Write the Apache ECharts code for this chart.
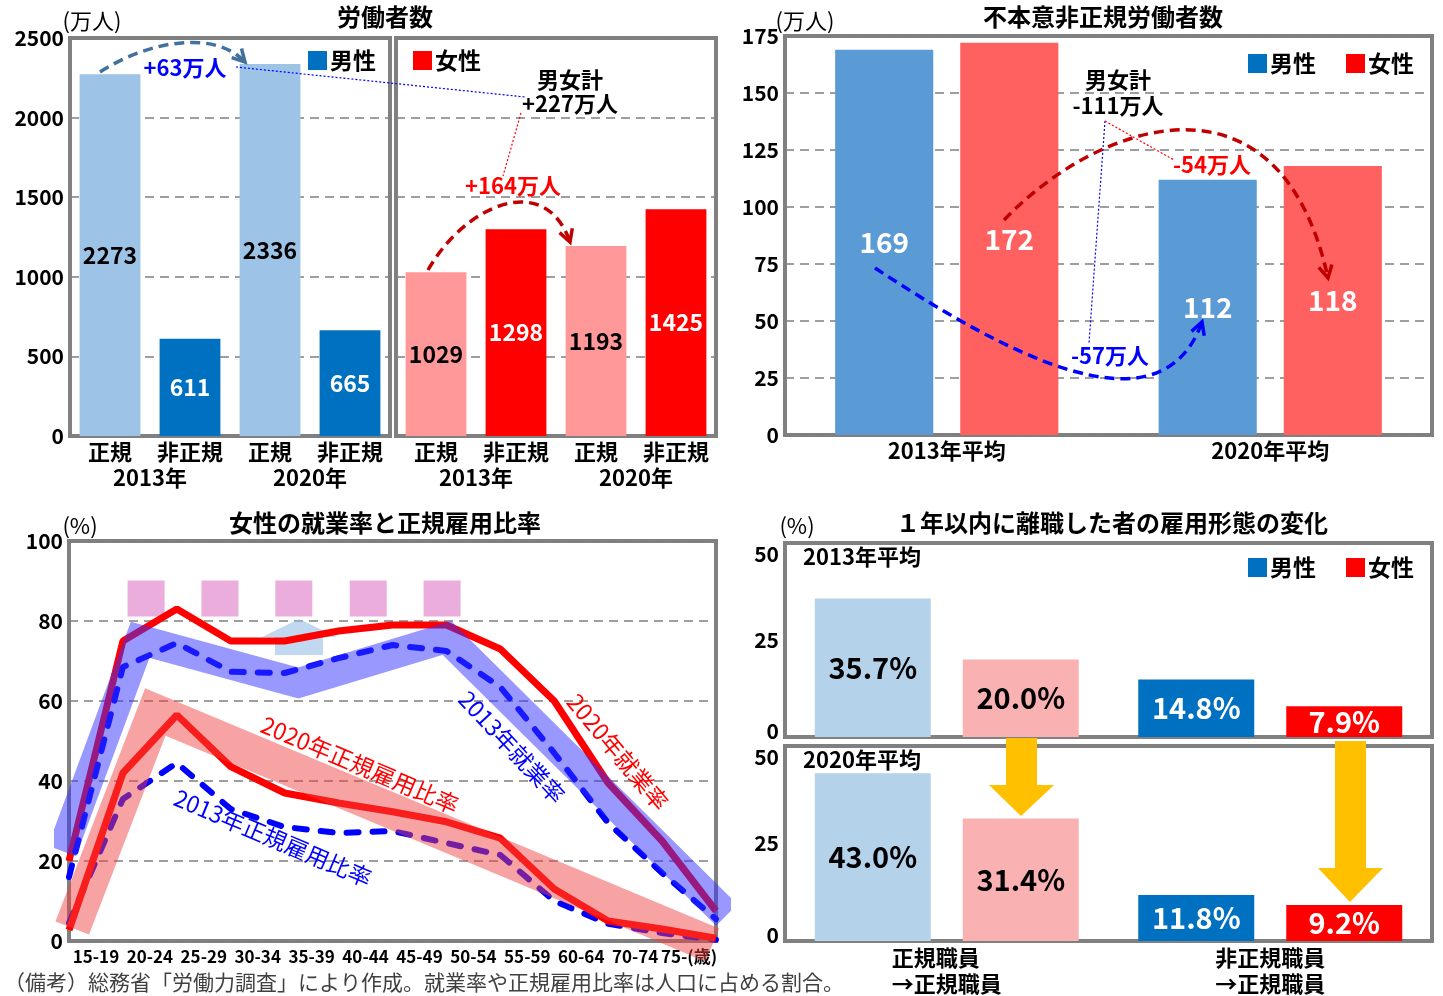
<!DOCTYPE html>
<html>
<head>
<meta charset="utf-8">
<script src="https://cdn.jsdelivr.net/npm/echarts@6/dist/echarts.min.js"></script>
<style>
html, body { margin: 0; padding: 0; background: #fff; }
#main { width: 1443px; height: 996px; }
</style>
</head>
<body>
<div id="main"></div>
<script>
const JP = "'Noto Sans CJK JP', sans-serif";
const NUM = "'Liberation Sans Narrow', 'Noto Sans CJK JP', sans-serif";

// 労働者数（万人）
const workerCats = ['正規', '非正規', '正規', '非正規'];
const workerYears = ['2013年', '2020年'];
const menWorkers = [2273, 611, 2336, 665];
const womenWorkers = [1029, 1298, 1193, 1425];

// 不本意非正規労働者数（万人）
const involCats = ['2013年平均', '2020年平均'];
const involMen = [169, 112];
const involWomen = [172, 118];

// 女性の就業率と正規雇用比率（%）
const ageGroups = ['15-19', '20-24', '25-29', '30-34', '35-39', '40-44', '45-49', '50-54', '55-59', '60-64', '65-69', '70-74', '75-'];
const ageTickLabels = ['15-19', '20-24', '25-29', '30-34', '35-39', '40-44', '45-49', '50-54', '55-59', '60-64', '70-74', '75-(歳)'];
const emp2020 = [20, 75, 83, 75, 75, 77.5, 79, 79, 73, 60, 39.5, 25, 7.5];
const emp2013 = [16, 68.5, 74.5, 67.3, 67, 70.7, 74, 72.5, 63.5, 47, 29.5, 17, 5.5];
const reg2020 = [2.75, 42, 56.5, 43.6, 37, 34.5, 32.3, 29.8, 25.7, 13, 5, 3, 0.7];
const reg2013 = [4.5, 35.5, 44.5, 33, 28.5, 27, 27.5, 24.5, 21.5, 10, 4.3, 2, 0.3];
// 強調の帯と飾り [年齢位置, %]
const empBand = [[-0.13, 22.5], [1.32, 75.3], [4.25, 64.5], [7.01, 75.75], [12.2, 6.5]];
const regBand = [[0.06, 3.25], [1.6, 57.25], [11.93, -1]];
const pinkBoxes = [[1.43, 85.6], [2.8, 85.6], [4.17, 85.6], [5.55, 85.6], [6.92, 85.6]];

// 1年以内に離職した者の雇用形態の変化（%）
const jobCats = ['正規職員　\n→正規職員', '非正規職員\n→正規職員'];
const men2013 = [35.7, 14.8];
const women2013 = [20.0, 7.9];
const men2020 = [43.0, 11.8];
const women2020 = [31.4, 9.2];

const chart = echarts.init(document.getElementById('main'));

const frame = { show: true, borderColor: '#808080', borderWidth: 4, outerBoundsMode: 'none' };
const dashLine = { show: true, lineStyle: { color: '#7f7f7f', type: [9, 6], width: 1.5 } };
const numLabel = { color: '#000', fontSize: 21, fontWeight: 'bold', fontFamily: NUM, margin: 6, formatter: v => String(v) };
const catLabel = { color: '#000', fontSize: 22, fontWeight: 'bold', fontFamily: JP, margin: 5, interval: 0 };

function catAxis(grid, data, extra) {
  return Object.assign({
    type: 'category', gridIndex: grid, data: data, position: 'bottom',
    axisLine: { show: false }, axisTick: { show: false }, splitLine: { show: false },
    axisLabel: catLabel
  }, extra || {});
}
function valAxis(grid, max, interval, extra) {
  return Object.assign({
    type: 'value', gridIndex: grid, min: 0, max: max, interval: interval,
    axisLine: { show: false }, axisTick: { show: false },
    splitLine: dashLine, axisLabel: numLabel
  }, extra || {});
}
// 上下の枠に収まるように端の目盛ラベルをずらす
function insetLabel(max) {
  return Object.assign({}, numLabel, {
    formatter: v => v === max ? '{t|' + v + '}' : v === 0 ? '{b|' + v + '}' : String(v),
    rich: {
      t: { fontSize: 21, fontWeight: 'bold', fontFamily: NUM, padding: [22, 0, 0, 0] },
      b: { fontSize: 21, fontWeight: 'bold', fontFamily: NUM, padding: [0, 0, 12, 0] }
    }
  });
}

function coloredBars(values, colors, labelColors) {
  return values.map((v, i) => ({
    value: v,
    itemStyle: { color: colors[i] },
    label: { color: labelColors[i] }
  }));
}

function txt(text, x, y, opt) {
  opt = opt || {};
  return {
    type: 'text', x: x, y: y, rotation: (opt.rot || 0) * Math.PI / 180, z: 100,
    style: {
      text: text, x: 0, y: 0, align: opt.align || 'center', verticalAlign: 'middle',
      fill: opt.color || '#000', fontSize: opt.size || 22,
      fontWeight: opt.weight || 'bold', fontFamily: opt.font || JP
    }
  };
}
function curve(x1, y1, c1x, c1y, c2x, c2y, x2, y2, color) {
  return {
    type: 'bezierCurve', z: 100,
    shape: { x1: x1, y1: y1, cpx1: c1x, cpy1: c1y, cpx2: c2x, cpy2: c2y, x2: x2, y2: y2 },
    style: { stroke: color, lineWidth: 3.5, lineDash: [10, 6], fill: null }
  };
}
function chevron(x, y, fx, fy, color) {
  const a = Math.atan2(y - fy, x - fx), s = 14, sp = 0.5;
  return {
    type: 'polyline', z: 100,
    shape: { points: [[x - s * Math.cos(a - sp), y - s * Math.sin(a - sp)], [x, y], [x - s * Math.cos(a + sp), y - s * Math.sin(a + sp)]] },
    style: { stroke: color, lineWidth: 3.5, fill: null }
  };
}
function dotted(x1, y1, x2, y2, color) {
  return {
    type: 'line', z: 100, shape: { x1: x1, y1: y1, x2: x2, y2: y2 },
    style: { stroke: color, lineWidth: 1.2, lineDash: [2, 2] }
  };
}
function legendBox(left, top, names) {
  const colors = { '男性': '#0070c0', '女性': '#ff0000' };
  return {
    left: left, top: top, icon: 'rect', itemWidth: 19, itemHeight: 19, itemGap: 30,
    selectedMode: false, orient: 'horizontal',
    textStyle: { fontSize: 23, fontWeight: 'bold', fontFamily: JP, color: '#000', padding: [0, 0, 0, -2] },
    data: names.map(n => ({ name: n, itemStyle: { color: colors[n] } }))
  };
}

const barLabel = (size, extra) => Object.assign({ show: true, position: 'inside', fontSize: size, fontWeight: 'bold', fontFamily: NUM }, extra || {});
const pct = p => p.value.toFixed(1) + '%';

const option = {
  animation: false,
  backgroundColor: '#fff',
  textStyle: { fontFamily: JP },
  grid: [
    Object.assign({ left: 70, top: 38, width: 320, height: 398 }, frame),
    Object.assign({ left: 396, top: 38, width: 320, height: 398 }, frame),
    Object.assign({ left: 785, top: 36, width: 647, height: 399 }, frame),
    Object.assign({ left: 69, top: 541, width: 647, height: 400 }, frame),
    Object.assign({ left: 785, top: 543, width: 647, height: 194 }, frame),
    Object.assign({ left: 785, top: 746, width: 647, height: 195 }, frame)
  ],
  legend: [
    legendBox(303, 44, ['男性']),
    legendBox(408, 44, ['女性']),
    legendBox(1243, 47, ['男性', '女性']),
    legendBox(1243, 551, ['男性', '女性'])
  ],
  xAxis: [
    catAxis(0, workerCats),
    catAxis(0, workerYears, { offset: 26 }),
    catAxis(1, workerCats),
    catAxis(1, workerYears, { offset: 26 }),
    catAxis(2, involCats),
    catAxis(3, ageGroups, { boundaryGap: false, axisLabel: { show: false } }),
    catAxis(3, ageTickLabels, {
      axisLabel: { color: '#000', fontSize: 17, fontWeight: 'bold', fontFamily: NUM, margin: 7, interval: 0 }
    }),
    { type: 'value', gridIndex: 3, min: 0, max: 12, show: false },
    catAxis(4, jobCats, { axisLabel: { show: false } }),
    catAxis(5, jobCats, { axisLabel: Object.assign({}, catLabel, { lineHeight: 26, margin: 4 }) })
  ],
  yAxis: [
    valAxis(0, 2500, 500),
    valAxis(1, 2500, 500, { axisLabel: { show: false } }),
    valAxis(2, 175, 25),
    valAxis(3, 100, 20),
    valAxis(4, 50, 25, { splitLine: { show: false }, axisLabel: insetLabel(50) }),
    valAxis(5, 50, 25, { splitLine: { show: false }, axisLabel: insetLabel(50) })
  ],
  series: [
    // 労働者数
    {
      name: '男性', type: 'bar', xAxisIndex: 0, yAxisIndex: 0, barCategoryGap: '24%',
      itemStyle: { color: '#0070c0' }, label: barLabel(23),
      data: coloredBars(menWorkers, ['#9dc3e6', '#0070c0', '#9dc3e6', '#0070c0'], ['#000', '#fff', '#000', '#fff'])
    },
    {
      name: '女性', type: 'bar', xAxisIndex: 2, yAxisIndex: 1, barCategoryGap: '24%',
      itemStyle: { color: '#ff0000' }, label: barLabel(23),
      data: coloredBars(womenWorkers, ['#ff9999', '#ff0000', '#ff9999', '#ff0000'], ['#000', '#fff', '#000', '#fff'])
    },
    // 不本意非正規
    {
      name: '男性', type: 'bar', xAxisIndex: 4, yAxisIndex: 2, barGap: '27.5%', barCategoryGap: '31%',
      itemStyle: { color: '#5b9bd5' }, label: barLabel(28, { color: '#fff' }), data: involMen
    },
    {
      name: '女性', type: 'bar', xAxisIndex: 4, yAxisIndex: 2, barGap: '27.5%', barCategoryGap: '31%',
      itemStyle: { color: '#ff6161' }, label: barLabel(28, { color: '#fff' }), data: involWomen
    },
    // 就業率と正規雇用比率
    {
      name: '飾り', type: 'scatter', xAxisIndex: 7, yAxisIndex: 3, symbol: 'rect', symbolSize: [37, 36],
      itemStyle: { color: '#e599d3' }, z: 1, data: pinkBoxes
    },
    {
      name: '2020年就業率', type: 'line', xAxisIndex: 5, yAxisIndex: 3, showSymbol: false, z: 3,
      lineStyle: { color: '#ff0000', width: 7 }, data: emp2020
    },
    {
      name: '2013年就業率', type: 'line', xAxisIndex: 5, yAxisIndex: 3, showSymbol: false, z: 3,
      lineStyle: { color: '#0000ff', width: 6, type: [12, 14], cap: 'round' }, data: emp2013
    },
    {
      name: '2013年正規雇用比率', type: 'line', xAxisIndex: 5, yAxisIndex: 3, showSymbol: false, z: 3,
      lineStyle: { color: '#0000ff', width: 6, type: [12, 14], cap: 'round' }, data: reg2013
    },
    {
      name: '2020年正規雇用比率', type: 'line', xAxisIndex: 5, yAxisIndex: 3, showSymbol: false, z: 3,
      lineStyle: { color: '#ff0000', width: 7 }, data: reg2020
    },
    {
      name: '帯1', type: 'line', xAxisIndex: 7, yAxisIndex: 3, showSymbol: false, clip: false, z: 4,
      lineStyle: { color: 'rgba(50,50,255,0.5)', width: 30, join: 'miter', cap: 'butt' }, data: empBand
    },
    {
      name: '帯2', type: 'line', xAxisIndex: 7, yAxisIndex: 3, showSymbol: false, clip: false, z: 4,
      lineStyle: { color: 'rgba(240,62,62,0.48)', width: 36, join: 'miter', cap: 'butt' }, data: regBand
    },
    // 離職者
    {
      name: '男性', type: 'bar', xAxisIndex: 8, yAxisIndex: 4, barGap: '27.6%', barCategoryGap: '18.4%',
      itemStyle: { color: '#0070c0' }, label: barLabel(29, { formatter: pct }),
      data: coloredBars(men2013, ['#b4d2ea', '#0070c0'], ['#000', '#fff'])
    },
    {
      name: '女性', type: 'bar', xAxisIndex: 8, yAxisIndex: 4, barGap: '27.6%', barCategoryGap: '18.4%',
      itemStyle: { color: '#ff0000' }, label: barLabel(29, { formatter: pct }),
      data: coloredBars(women2013, ['#f9b1b1', '#ff0000'], ['#000', '#fff'])
    },
    {
      name: '男性', type: 'bar', xAxisIndex: 9, yAxisIndex: 5, barGap: '27.6%', barCategoryGap: '18.4%',
      itemStyle: { color: '#0070c0' }, label: barLabel(29, { formatter: pct }),
      data: coloredBars(men2020, ['#b4d2ea', '#0070c0'], ['#000', '#fff'])
    },
    {
      name: '女性', type: 'bar', xAxisIndex: 9, yAxisIndex: 5, barGap: '27.6%', barCategoryGap: '18.4%',
      itemStyle: { color: '#ff0000' }, label: barLabel(29, { formatter: pct }),
      data: coloredBars(women2020, ['#f9b1b1', '#ff0000'], ['#000', '#fff'])
    }
  ],
  graphic: [
    // タイトル・単位
    txt('労働者数', 385, 17, { size: 24 }),
    txt('不本意非正規労働者数', 1103, 17, { size: 24 }),
    txt('女性の就業率と正規雇用比率', 385, 523, { size: 24 }),
    txt('１年以内に離職した者の雇用形態の変化', 1112, 523, { size: 24 }),
    txt('(万人)', 92, 21, { weight: 'normal' }),
    txt('(万人)', 805, 21, { weight: 'normal' }),
    txt('(%)', 80, 526, { weight: 'normal' }),
    txt('(%)', 797, 526, { weight: 'normal' }),
    txt('2013年平均', 803, 557, { align: 'left' }),
    txt('2020年平均', 803, 760, { align: 'left' }),
    txt('（備考）総務省「労働力調査」により作成。就業率や正規雇用比率は人口に占める割合。', 4, 982,
      { align: 'left', size: 21, weight: 'normal', color: '#404040' }),

    // 労働者数の注記
    curve(100, 72, 150, 40, 215, 30, 245, 62, '#41719c'),
    chevron(245, 62, 215, 30, '#41719c'),
    txt('+63万人', 185, 68, { color: '#0000ff' }),
    dotted(236, 67, 525, 97, '#0000ff'),
    txt('男女計', 570, 80),
    txt('+227万人', 570, 104),
    dotted(521, 113, 503, 176, '#ff0000'),
    txt('+164万人', 513, 186, { color: '#ff0000' }),
    curve(428, 270, 465, 205, 545, 170, 570, 242, '#c00000'),
    chevron(570, 242, 545, 170, '#c00000'),

    // 不本意非正規の注記
    txt('男女計', 1118, 80),
    txt('-111万人', 1118, 106),
    dotted(1105, 121, 1089, 343, '#0000ff'),
    dotted(1105, 121, 1174, 160, '#ff0000'),
    curve(1004, 220, 1100, 120, 1280, 60, 1328, 278, '#c00000'),
    chevron(1328, 278, 1280, 60, '#c00000'),
    txt('-54万人', 1212, 165, { color: '#ff0000' }),
    curve(875, 268, 1000, 350, 1160, 440, 1202, 322, '#0000ff'),
    chevron(1202, 322, 1160, 440, '#0000ff'),
    txt('-57万人', 1110, 356, { color: '#0000ff' }),

    // 就業率の注記
    {
      type: 'polygon', z: 1,
      shape: { points: [[275, 655], [275, 637], [262, 637], [299, 619], [337, 637], [323, 637], [323, 655]] },
      style: { fill: 'rgba(150,192,230,0.6)' }
    },
    txt('2020年正規雇用比率', 360, 765, { color: '#ff0000', rot: -23, weight: 'normal', size: 23 }),
    txt('2013年正規雇用比率', 273, 838, { color: '#0000ff', rot: -23, weight: 'normal', size: 23 }),
    txt('2013年就業率', 512, 747, { color: '#0000ff', rot: -47, weight: 'normal', size: 23 }),
    txt('2020年就業率', 618, 752, { color: '#ff0000', rot: -50, weight: 'normal', size: 23 }),

    // 離職者の矢印
    {
      type: 'polygon', z: 100,
      shape: { points: [[1006, 738], [1037, 738], [1037, 785], [1054, 785], [1021, 816], [989, 785], [1006, 785]] },
      style: { fill: '#ffc000' }
    },
    {
      type: 'polygon', z: 100,
      shape: { points: [[1335, 741], [1366, 741], [1366, 868], [1383, 868], [1350, 902], [1318, 868], [1335, 868]] },
      style: { fill: '#ffc000' }
    }
  ]
};

chart.setOption(option);
</script>
</body>
</html>
